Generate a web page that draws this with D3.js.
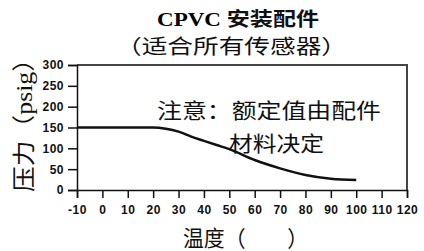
<!DOCTYPE html>
<html>
<head>
<meta charset="utf-8">
<script src="https://cdn.jsdelivr.net/npm/d3@7"></script>
<style>
  html, body { margin: 0; padding: 0; background: #fff; }
  svg { display: block; }
  .cjk { font-family: "Noto Sans CJK SC", sans-serif; fill: #111; }
  .tick text { font-family: "Liberation Sans", Arial, sans-serif; font-weight: bold; font-size: 12px; fill: #111; }
  .domain, .tick line { stroke: #111; stroke-width: 1.5; }
</style>
</head>
<body>
<div id="chart"></div>
<script>
// Data
const temps = [-10, 0, 10, 20, 25, 30, 35, 40, 45, 50, 60, 70, 80, 90, 100];
const pressure = [150, 150, 150, 150, 147, 140, 128, 118, 108, 98, 72, 52, 36, 27, 24];
const xTicks = [-10, 0, 10, 20, 30, 40, 50, 60, 70, 80, 90, 100, 110, 120];
const yTicks = [0, 50, 100, 150, 200, 250, 300];

const width = 424;
const height = 251;
const margin = { top: 65, right: 17, bottom: 61, left: 77 };

const svg = d3.select('#chart')
  .append('svg')
  .attr('width', width)
  .attr('height', height);

const x = d3.scaleLinear().domain([-10, 120]).range([margin.left, width - margin.right]);
const y = d3.scaleLinear().domain([0, 300]).range([height - margin.bottom, margin.top]);

// frame (top and right)
svg.append('path')
  .attr('d', `M${x(-10)},${y(300)}H${x(120)}V${y(0)}`)
  .attr('fill', 'none')
  .attr('stroke', '#444')
  .attr('stroke-width', 2);

// plain hyphen for negatives, like the original
const fmt = d => String(d);

svg.append('g')
  .attr('transform', `translate(0,${y(0)})`)
  .call(d3.axisBottom(x).tickValues(xTicks).tickSize(8).tickPadding(7).tickFormat(fmt));

svg.append('g')
  .attr('transform', `translate(${x(-10)},0)`)
  .call(d3.axisLeft(y).tickValues(yTicks).tickSize(9).tickPadding(4).tickFormat(fmt));

svg.selectAll('.tick text').attr('letter-spacing', 0.5);

// curve
const line = d3.line()
  .x((d, i) => x(temps[i]))
  .y(d => y(d))
  .curve(d3.curveMonotoneX);

svg.append('path')
  .datum(pressure)
  .attr('d', line)
  .attr('fill', 'none')
  .attr('stroke', '#111')
  .attr('stroke-width', 2.5);

// titles
const title = svg.append('text')
  .attr('x', 157).attr('y', 26)
  .attr('textLength', 162).attr('lengthAdjust', 'spacingAndGlyphs')
  .attr('font-weight', 'bold')
  .attr('font-size', 19);
title.append('tspan').attr('font-family', '"Liberation Serif", serif').text('CPVC ');
title.append('tspan').attr('class', 'cjk').text('安装配件');

svg.append('text')
  .attr('class', 'cjk')
  .attr('x', 116).attr('y', 54)
  .attr('font-size', 20)
  .attr('textLength', 231).attr('lengthAdjust', 'spacingAndGlyphs')
  .text('（适合所有传感器）');

// note
svg.append('text')
  .attr('class', 'cjk')
  .attr('x', 157).attr('y', 118)
  .attr('font-size', 21)
  .attr('textLength', 224).attr('lengthAdjust', 'spacingAndGlyphs')
  .text('注意：额定值由配件');

svg.append('text')
  .attr('class', 'cjk')
  .attr('x', 229).attr('y', 151)
  .attr('font-size', 21)
  .attr('textLength', 95).attr('lengthAdjust', 'spacingAndGlyphs')
  .text('材料决定');

// axis titles
const yLabel = svg.append('text')
  .attr('transform', 'translate(32,192) rotate(-90)')
  .attr('font-size', 23)
  .attr('textLength', 146).attr('lengthAdjust', 'spacingAndGlyphs');
yLabel.append('tspan').attr('class', 'cjk').text('压力（');
yLabel.append('tspan').attr('font-family', '"Liberation Serif", serif').attr('fill', '#111').text('psig');
yLabel.append('tspan').attr('class', 'cjk').text('）');

svg.append('text')
  .attr('class', 'cjk')
  .attr('x', 183).attr('y', 246)
  .attr('font-size', 22)
  .attr('textLength', 125).attr('lengthAdjust', 'spacingAndGlyphs')
  .text('温度（　　）');
</script>
</body>
</html>
